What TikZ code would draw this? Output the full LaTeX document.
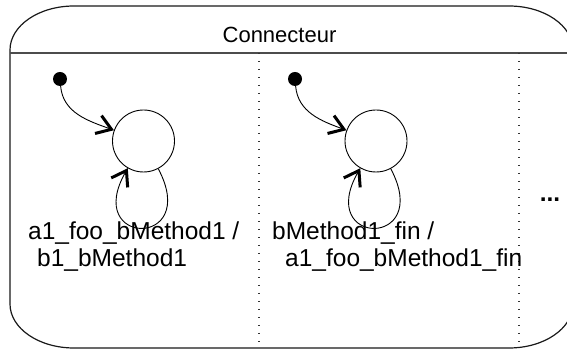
\documentclass[tikz,border=0pt]{standalone}
\usepackage{fontspec}
\setmainfont{Liberation Sans}
\usepackage{tikz}
\usetikzlibrary{arrows.meta, positioning}

\begin{document}
\begin{tikzpicture}[
  x=1pt, y=1pt,
  every node/.style={font=\fontsize{22}{27}\selectfont},
  state/.style={circle, draw=black, line width=0.9pt, minimum size=62pt, inner sep=0pt},
  init/.style={circle, fill=black, minimum size=14pt, inner sep=0pt},
  lbl/.style={align=left, anchor=base west, inner sep=0pt, font=\fontsize{24.5}{27}\selectfont},
  arr/.style={-{Straight Barb[length=14pt, width=19pt, line width=3pt]}, line width=0.9pt},
  sep/.style={line width=1.1pt, black!80, dash pattern=on 1.5pt off 6.5pt},
  border/.style={line width=1.2pt, black!90}
]
\useasboundingbox (0,0) rectangle (567,350);

% --- Outer box ---
\draw[border] (10,300) arc[start angle=180, end angle=90, x radius=64, y radius=44]
  -- (509,344) arc[start angle=90, end angle=0, x radius=64, y radius=44]
  -- (573,46) arc[start angle=0, end angle=-90, x radius=64, y radius=44]
  -- (74,2) arc[start angle=270, end angle=180, x radius=64, y radius=44]
  -- cycle;
\node[anchor=base] (hdr) at (279.5,307) {Connecteur};
\coordinate (hl) at (10,297);
\coordinate (hr) at (573,297);
\draw[line width=1.2pt, black!70] (hl) -- (hr);

% --- Separators ---
\coordinate (sa) at (259,297);
\coordinate (sb) at (259,2);
\coordinate (sc) at (519,297);
\coordinate (sd) at (519,2);
\draw[sep] (sa) -- (sb);
\draw[sep] (sc) -- (sd);

% --- First column ---
\node[init]  (init1) at (60,271) {};
\node[state] (s1)    at (143.5,209) {};
\draw[arr] (init1) to[out=-85, in=160] (s1);
\draw[arr] (s1) to[out=-62, in=-120, looseness=7.6] (s1);
\node[lbl] (lbl1) at (28,83) {a1\_foo\_bMethod1 /\\\hspace{9pt}b1\_bMethod1};

% --- Second column ---
\node[init]  (init2) at (295,271) {};
\node[state] (s2)    at (376,209) {};
\draw[arr] (init2) to[out=-85, in=160] (s2);
\draw[arr] (s2) to[out=-62, in=-120, looseness=7.6] (s2);
\node[lbl] (lbl2) at (272,83) {bMethod1\_fin /\\\hspace{13pt}a1\_foo\_bMethod1\_fin};

% --- More ---
\node[anchor=base, font=\fontsize{24.5}{27}\bfseries] (more) at (550,148) {...};

\end{tikzpicture}
\end{document}
